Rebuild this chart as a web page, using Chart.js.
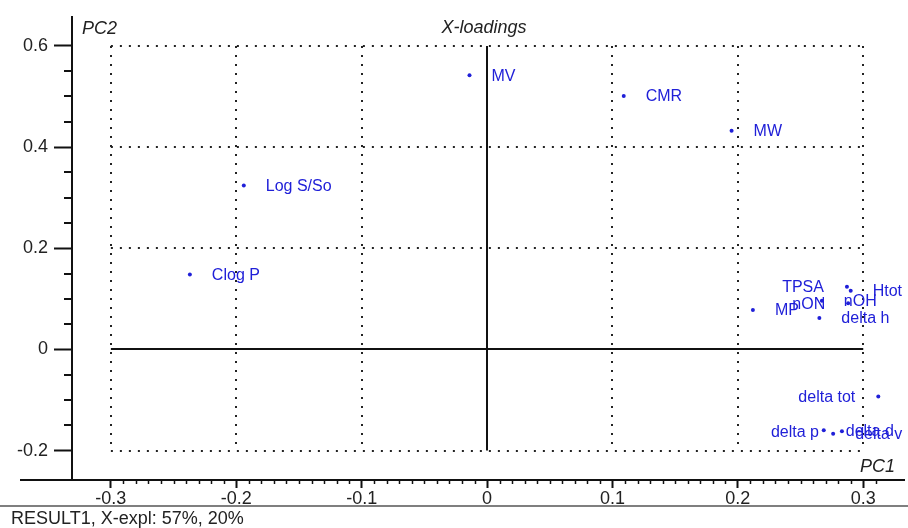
<!DOCTYPE html>
<html>
<head>
<meta charset="utf-8">
<title>X-loadings</title>
<script src="https://cdn.jsdelivr.net/npm/chart.js@4.4.1/dist/chart.umd.min.js"></script>
<style>
  html, body { margin: 0; padding: 0; background: #fff; }
</style>
</head>
<body>
<canvas id="loadings-chart" width="908" height="528"></canvas>
<script>
// Loadings (PC1, PC2)
const variableNames = ['MV', 'CMR', 'MW', 'Log S/So', 'Clog P', 'MP', 'nOH', 'delta h',
  'TPSA', 'Htot', 'nON', 'delta tot', 'delta p', 'delta d', 'delta v'];
const pc1Values = [-0.014, 0.109, 0.195, -0.194, -0.237, 0.212, 0.267, 0.265,
  0.287, 0.290, 0.288, 0.312, 0.283, 0.2685, 0.276];
const pc2Values = [0.542, 0.501, 0.432, 0.324, 0.148, 0.078, 0.096, 0.062,
  0.124, 0.116, 0.091, -0.093, -0.162, -0.160, -0.167];
const xTicks = [-0.3, -0.2, -0.1, 0, 0.1, 0.2, 0.3];
const yTicks = [-0.2, 0, 0.2, 0.4, 0.6];
// labels that sit left of their point
const labelsOnLeft = ['TPSA', 'nON', 'delta tot', 'delta p'];

const FONT = '"Liberation Sans", Arial, Helvetica, sans-serif';
const BLUE = '#2020d8';

function fmt(v) {
  return Math.abs(v) < 1e-9 ? '0' : v.toFixed(1);
}

// Dotted grid box, zero lines, point labels, minor ticks, titles
const loadingsDecor = {
  id: 'loadingsDecor',
  beforeDatasetsDraw(chart) {
    const {ctx, scales: {x, y}} = chart;
    const left = x.getPixelForValue(xTicks[0]);
    const right = x.getPixelForValue(xTicks[xTicks.length - 1]);
    const top = y.getPixelForValue(yTicks[yTicks.length - 1]);
    const bottom = y.getPixelForValue(yTicks[0]);
    ctx.save();
    ctx.strokeStyle = '#222';
    ctx.lineWidth = 2;
    ctx.setLineDash([2, 7]);
    xTicks.filter((v) => v !== 0).forEach((v) => {
      const px = Math.round(x.getPixelForValue(v));
      ctx.beginPath();
      ctx.moveTo(px, top);
      ctx.lineTo(px, bottom);
      ctx.stroke();
    });
    yTicks.filter((v) => v !== 0).forEach((v) => {
      const py = Math.round(y.getPixelForValue(v));
      ctx.beginPath();
      ctx.moveTo(left, py);
      ctx.lineTo(right, py);
      ctx.stroke();
    });
    ctx.setLineDash([]);
    ctx.strokeStyle = '#111';
    const x0 = Math.round(x.getPixelForValue(0));
    const y0 = Math.round(y.getPixelForValue(0));
    ctx.beginPath();
    ctx.moveTo(x0, top);
    ctx.lineTo(x0, bottom);
    ctx.moveTo(left, y0);
    ctx.lineTo(right, y0);
    ctx.stroke();
    ctx.restore();
  },
  afterDatasetsDraw(chart) {
    const {ctx} = chart;
    const meta = chart.getDatasetMeta(0);
    ctx.save();
    ctx.font = '16px ' + FONT;
    ctx.fillStyle = BLUE;
    ctx.textBaseline = 'middle';
    meta.data.forEach((pt, i) => {
      const name = variableNames[i];
      if (labelsOnLeft.includes(name)) {
        ctx.textAlign = 'right';
        ctx.fillText(name, pt.x - 23, pt.y + 1);
      } else {
        ctx.textAlign = 'left';
        ctx.fillText(name, pt.x + 22, pt.y + 1);
      }
    });
    ctx.restore();
  },
  afterDraw(chart) {
    const {ctx, chartArea, scales: {x, y}} = chart;
    ctx.save();
    ctx.strokeStyle = '#111';
    // minor ticks on x, every 0.01
    ctx.lineWidth = 1.5;
    for (let k = -30; k <= 31; k++) {
      if (k % 10 === 0) continue;
      const px = Math.round(x.getPixelForValue(k / 100)) + 0.5;
      ctx.beginPath();
      ctx.moveTo(px, chartArea.bottom);
      ctx.lineTo(px, chartArea.bottom + 4);
      ctx.stroke();
    }
    // minor ticks on y, every 0.05
    ctx.lineWidth = 2;
    for (let k = -4; k <= 12; k++) {
      if (k % 4 === 0) continue;
      const py = Math.round(y.getPixelForValue(k / 20));
      ctx.beginPath();
      ctx.moveTo(chartArea.left - 8, py);
      ctx.lineTo(chartArea.left, py);
      ctx.stroke();
    }
    // x axis line runs on to the left
    ctx.beginPath();
    ctx.moveTo(20, chartArea.bottom);
    ctx.lineTo(chartArea.left, chartArea.bottom);
    ctx.stroke();
    // footer rule and text
    ctx.strokeStyle = '#555';
    ctx.lineWidth = 1.5;
    ctx.beginPath();
    ctx.moveTo(0, 506);
    ctx.lineTo(chart.width, 506);
    ctx.stroke();
    ctx.fillStyle = '#222';
    ctx.font = '18px ' + FONT;
    ctx.textBaseline = 'middle';
    ctx.textAlign = 'left';
    ctx.fillText('RESULT1, X-expl: 57%, 20%', 11, 519);
    // titles
    ctx.font = 'italic 18px ' + FONT;
    ctx.fillText('PC2', 82, 29);
    ctx.textAlign = 'center';
    ctx.fillText('X-loadings', 484, 28);
    ctx.textAlign = 'right';
    ctx.fillText('PC1', 895, 467);
    ctx.restore();
  },
};

function initChart() {
  const ctx = document.getElementById('loadings-chart').getContext('2d');
  const points = pc1Values.map((v, i) => ({x: v, y: pc2Values[i]}));

  return new Chart(ctx, {
    type: 'scatter',
    data: {
      datasets: [
        {
          label: 'X-loadings',
          data: points,
          backgroundColor: BLUE,
          borderWidth: 0,
          pointRadius: 2,
        },
      ],
    },
    options: {
      responsive: false,
      devicePixelRatio: 1,
      animation: false,
      layout: {padding: {top: 13, left: 0, right: 0, bottom: 0}},
      plugins: {legend: {display: false}, tooltip: {enabled: false}},
      scales: {
        x: {
          type: 'linear',
          position: 'bottom',
          min: -0.331,
          max: 0.3325,
          afterBuildTicks: (scale) => {
            scale.ticks = xTicks.map((v) => ({value: v}));
          },
          afterFit: (scale) => {
            scale.height = 48;
          },
          border: {display: true, color: '#111', width: 2},
          grid: {drawOnChartArea: false, drawTicks: true, tickLength: 8, tickColor: '#111', tickWidth: 2},
          ticks: {
            font: {family: FONT, size: 18},
            color: '#222',
            padding: 0,
            maxRotation: 0,
            callback: (v) => fmt(v),
          },
        },
        y: {
          type: 'linear',
          position: 'left',
          min: -0.2582,
          max: 0.6575,
          afterBuildTicks: (scale) => {
            scale.ticks = yTicks.map((v) => ({value: v}));
          },
          afterFit: (scale) => {
            scale.width = 72;
          },
          border: {display: true, color: '#111', width: 2},
          grid: {drawOnChartArea: false, drawTicks: true, tickLength: 18, tickColor: '#111', tickWidth: 2},
          ticks: {
            font: {family: FONT, size: 18},
            color: '#222',
            padding: 6,
            callback: (v) => fmt(v),
          },
        },
      },
    },
    plugins: [loadingsDecor],
  });
}

initChart();
</script>
</body>
</html>
